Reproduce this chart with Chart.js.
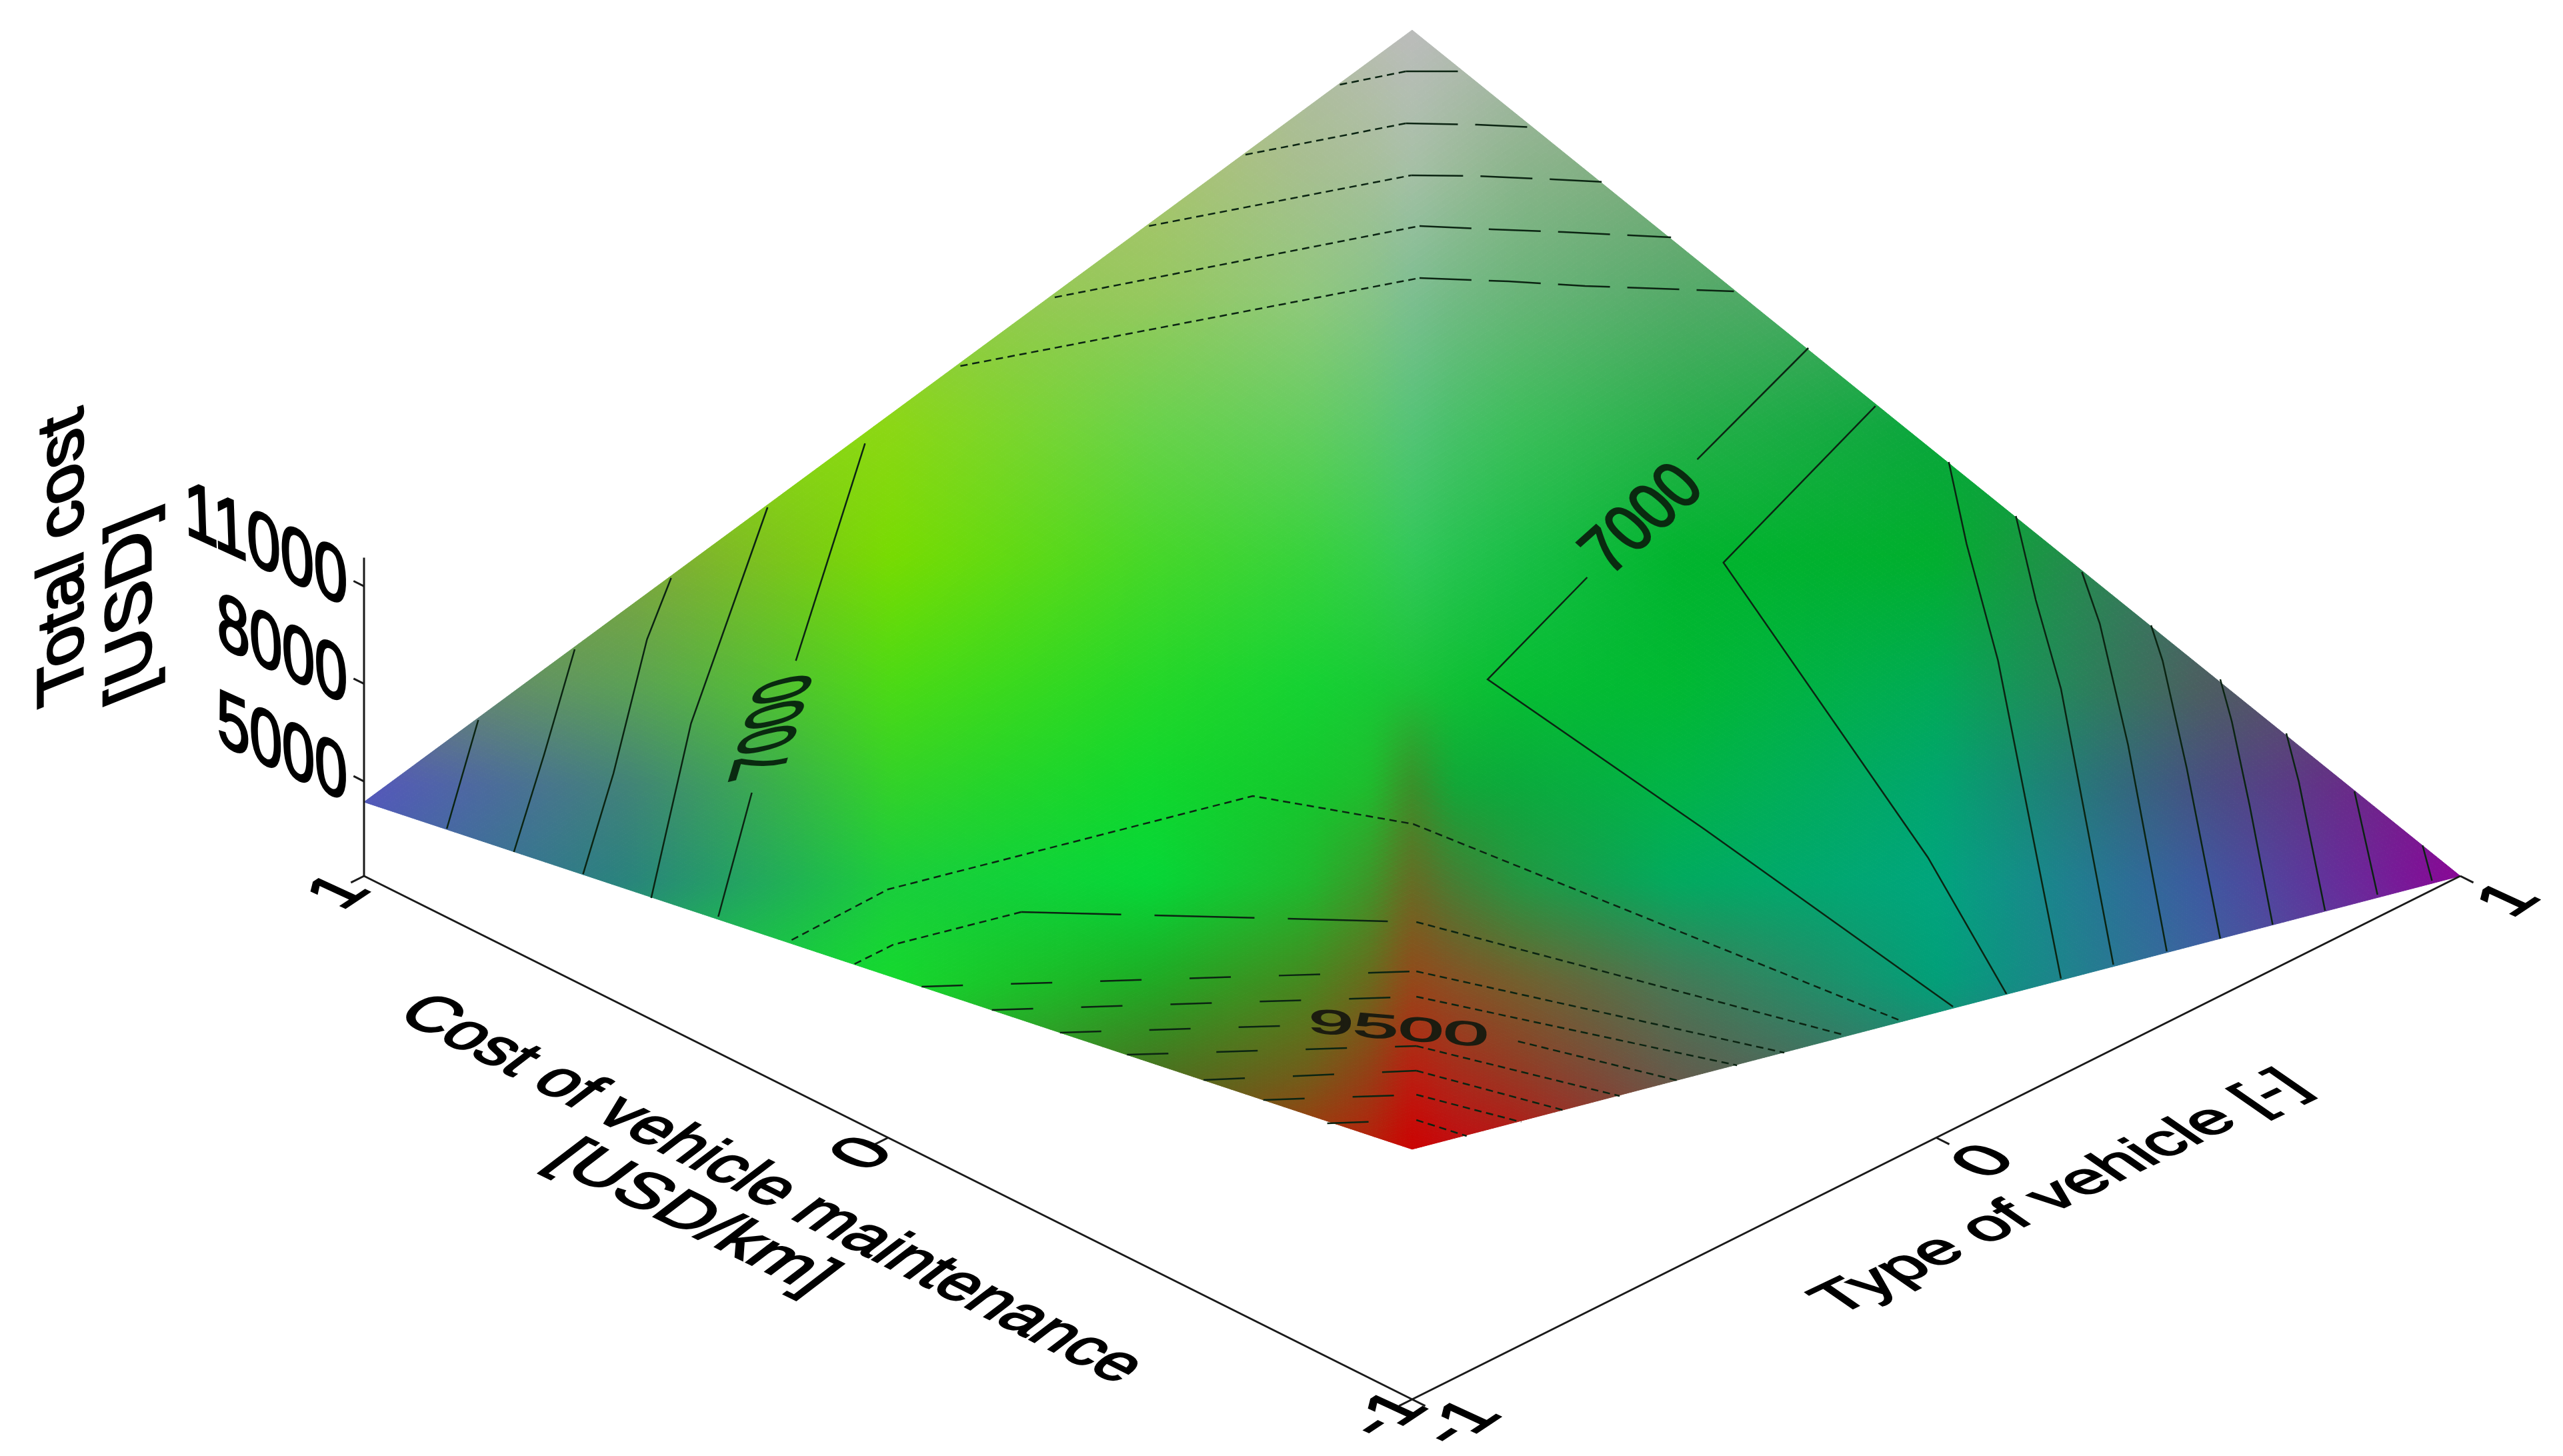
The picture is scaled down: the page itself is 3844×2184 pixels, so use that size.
<!DOCTYPE html>
<html>
<head>
<meta charset="utf-8">
<title>Total cost surface</title>
<style>
html, body {margin: 0; padding: 0; background: #fff}
canvas {display: block}
</style>
<script src="https://cdn.jsdelivr.net/npm/chart.js@4"></script>
</head>
<body>
<canvas id="chart" width="3844" height="2184"></canvas>
<script>
const typeTicks        = [-1, 0, 1];
const maintenanceTicks = [-1, 0, 1];
const costTicks        = [5000, 8000, 11000];
const costAxisRange    = [2090, 11880];

// total cost at the corners: [type, maintenance, cost]
const surfaceCorners = [[-1, -1, 9780], [1, -1, 2090], [-1, 1, 4365], [1, 1, 12010]];

const colourColumns = [-1, -0.748, -0.497, -0.248, -0.1, -0.04, 0, 0.04, 0.103, 0.251, 0.5, 0.75, 1];
const colourHeights = [28120, 24000, 19980, 15960, 11940, 7920, 4900, 1890, -1130, -4150, -6310];
const colourRows    = [
    [[170,195,110], [170,195,110], [170,195,110], [170,195,110], [178,188,165], [185,188,178], [188,188,188], [182,186,180], [172,182,170], [150,178,150], [150,178,150], [150,178,150], [150,178,150]],
    [[170,195,110], [170,195,110], [170,195,110], [170,195,110], [168,190,145], [168,191,155], [168,192,168], [156,187,155], [140,180,140], [125,170,125], [125,170,125], [125,170,125], [125,170,125]],
    [[150,200, 70], [150,200, 70], [150,200, 70], [150,200, 95], [145,200,125], [135,195,135], [125,190,145], [115,185,132], [105,180,120], [ 85,170,105], [ 65,165, 95], [ 65,165, 95], [ 65,165, 95]],
    [[140,215, 20], [140,215, 20], [140,215, 20], [105,210, 75], [100,205, 95], [ 92,200,108], [ 85,195,120], [ 72,192,105], [ 60,190, 90], [ 40,175, 75], [ 10,165, 60], [ 10,160, 60], [ 10,160, 60]],
    [[130,165, 60], [130,165, 60], [120,220,  0], [ 70,215, 40], [ 55,210, 60], [ 52,205, 75], [ 50,200, 90], [ 38,195, 80], [ 25,190, 70], [  0,180, 45], [  0,175, 45], [ 70,105,105], [ 90, 80,110]],
    [[110,120,125], [ 90,160, 85], [ 75,218, 20], [ 35,215, 40], [ 20,210, 50], [ 22,202, 52], [ 25,195, 55], [ 15,192, 52], [  5,190, 50], [  0,185, 50], [  0,170, 85], [ 75, 95, 95], [110, 50,120]],
    [[ 85, 85,190], [ 65,130,120], [ 50,210, 40], [ 15,215, 45], [ 20,200, 45], [ 28,190, 45], [ 60,140, 40], [ 15,168, 55], [ 10,170, 60], [  0,180, 70], [  0,165,110], [ 70, 80,130], [130, 15,140]],
    [[ 70,100,170], [ 40,130,125], [ 25,205, 60], [  5,215, 55], [ 30,185, 45], [ 60,150, 40], [105,105, 35], [ 70,125, 50], [ 35,150, 65], [  0,170, 95], [  0,165,125], [ 60, 90,160], [138,  5,150]],
    [[ 40,150,110], [ 25,190, 80], [ 20,218, 45], [ 30,170, 35], [ 70,135, 30], [105,105, 28], [150, 70, 25], [135, 80, 35], [115, 95, 45], [ 70,120, 85], [  0,160,120], [ 60,100,160], [120, 30,150]],
    [[ 40,170, 50], [ 40,170, 50], [ 40,170, 50], [ 75,110, 30], [115, 90, 25], [150, 60, 20], [190, 25, 15], [170, 40, 25], [150, 55, 35], [100, 90, 75], [ 50,120,110], [ 60,100,160], [ 60,100,160]],
    [[ 60,130, 40], [ 60,130, 40], [ 60,130, 40], [ 95,100, 25], [170, 50, 10], [185, 30, 10], [205,  0,  0], [195, 10, 15], [185, 20, 20], [125, 70, 60], [ 60,110,120], [ 60,100,160], [ 60,100,160]]
];

// contour lines as seen in the oblique view: [across, height]
const leftFan1 = [[-0.891, 6887], [-0.921, 3545]];
const leftFan2 = [[-0.799, 9060], [-0.828, 5841], [-0.857, 2828]];
const leftFan3 = [[-0.707, 11253], [-0.730, 9367], [-0.762, 5247], [-0.791, 2151]];
const leftFan4 = [[-0.615, 13426], [-0.635, 11602], [-0.688, 6784], [-0.726, 1414]];
const left7000a = [[-0.522, 15394], [-0.588, 8711]];
const left7000b = [[-0.630, 4652], [-0.662, 840]];

const right7000a = [[0.378, 18326], [0.272, 14902]];
const right7000b = [[0.167, 11274], [0.072, 8137], [0.279, 3525], [0.516, -1928]];
const rightFan1  = [[0.442, 16542], [0.297, 11725], [0.492, 2664], [0.567, -1538]];
const rightFan2  = [[0.512, 14820], [0.529, 12299], [0.559, 8711], [0.619, -1067]];
const rightFan3  = [[0.576, 13160], [0.595, 10577], [0.619, 7850], [0.669, -636]];
const rightFan4  = [[0.639, 11438], [0.656, 9859], [0.683, 6128], [0.720, -226]];
const rightFan5  = [[0.705, 9798], [0.716, 8711], [0.739, 5411], [0.771, 163]];
const rightFan6  = [[0.771, 8137], [0.782, 6846], [0.799, 4263], [0.821, 594]];
const rightFan7  = [[0.834, 6477], [0.846, 4980], [0.871, 1024]];
const rightFan8  = [[0.899, 4693], [0.921, 1516]];
const rightFan9  = [[0.964, 3033], [0.973, 1947]];

const lowRidge1  = [[-0.592, 122], [-0.500, 1680], [-0.152, 4550], [0.001, 3689], [0.466, -2358]];
const lowRidge2  = [[-0.532, -616], [-0.495, -21], [-0.373, 983], [0.004, 676], [0.411, -2789]];
const lowRidge3  = [[-0.468, -1313], [0.004, -841], [0.355, -3342]];
const lowRidge4  = [[-0.401, -2030], [0.004, -1620], [0.310, -3732]];
const low9500a   = [[-0.336, -2727], [-0.107, -2502]];
const low9500b   = [[0.101, -2994], [0.254, -4203]];
const lowRidge6  = [[-0.272, -3404], [0.004, -3137], [0.198, -4675]];
const lowRidge7  = [[-0.199, -4183], [0.004, -3896], [0.146, -5126]];
const lowRidge8  = [[-0.142, -4798], [0.004, -4634], [0.104, -5474]];
const lowRidge9  = [[-0.081, -5515], [0.004, -5413], [0.052, -5905]];

const topRidge1 = [[-0.069, 26424], [-0.006, 26834], [0.049, 26834]];
const topRidge2 = [[-0.159, 24271], [-0.006, 25235], [0.062, 25194], [0.118, 25112]];
const topRidge3 = [[-0.251, 22078], [-0.001, 23636], [0.062, 23615], [0.134, 23513], [0.184, 23431]];
const topRidge4 = [[-0.341, 19884], [0.007, 22078], [0.076, 21975], [0.144, 21893], [0.247, 21729]];
const topRidge5 = [[-0.431, 17773], [0.007, 20479], [0.092, 20376], [0.165, 20233], [0.307, 20069]];

const fanLines = [leftFan1, leftFan2, leftFan3, leftFan4, left7000a, left7000b, right7000a, right7000b,
    rightFan1, rightFan2, rightFan3, rightFan4, rightFan5, rightFan6, rightFan7, rightFan8, rightFan9];
const topLines = [topRidge1, topRidge2, topRidge3, topRidge4, topRidge5];
const lowLines = [lowRidge1, lowRidge3, lowRidge4, low9500a, low9500b, lowRidge6, lowRidge7, lowRidge8, lowRidge9];

const FONT = '"Liberation Sans", Arial, sans-serif';

// one unit of type + maintenance lifts a point by this much height on the picture
const PLANE_TILT = 8046;

const project  = (type, maintenance, cost) => ({x: (type - maintenance) / 2, y: cost + PLANE_TILT * (type + maintenance)});
const toPoints = line => line.map(p => ({x: p[0], y: p[1]}));

function cornerCost(type, maintenance) {
    const u = (type + 1) / 2;
    const v = (maintenance + 1) / 2;
    return surfaceCorners[0][2] * (1 - u) * (1 - v) + surfaceCorners[1][2] * u * (1 - v) +
           surfaceCorners[2][2] * (1 - u) * v + surfaceCorners[3][2] * u * v;
}

function bracket(levels, value) {
    const rising = levels[1] > levels[0];
    let i = 0;
    while (i < levels.length - 2 && (rising ? value > levels[i + 1] : value < levels[i + 1])) {i++}
    const f = (value - levels[i]) / (levels[i + 1] - levels[i]);
    return [i, Math.max(0, Math.min(1, f))];
}

function sampleColour(x, y) {
    const [c, fc] = bracket(colourColumns, x);
    const [r, fr] = bracket(colourHeights, y);
    return [0, 1, 2].map(k => {
        const a = colourRows[r][c][k] * (1 - fc) + colourRows[r][c + 1][k] * fc;
        const b = colourRows[r + 1][c][k] * (1 - fc) + colourRows[r + 1][c + 1][k] * fc;
        return a * (1 - fr) + b * fr;
    });
}

// a little averaging hides the creases of the colour table
function colourAt(x, y) {
    const near = [[0, 0], [-0.012, 0], [0.012, 0], [0, -500], [0, 500]].map(d => sampleColour(x + d[0], y + d[1]));
    const rgb  = [0, 1, 2].map(k => Math.round(near.reduce((sum, c) => sum + c[k], 0) / near.length));
    return `rgb(${rgb[0]},${rgb[1]},${rgb[2]})`;
}

function skewText(ctx, text, px, py, along, up, size, colour) {
    ctx.save();
    ctx.font = `${size}px ${FONT}`;
    const w   = ctx.measureText(text).width;
    const cap = size * 0.716;
    ctx.transform(along[0] / w, along[1] / w, -up[0] / cap, -up[1] / cap, px, py);
    ctx.textAlign    = 'center';
    ctx.textBaseline = 'alphabetic';
    ctx.fillStyle    = colour || '#000';
    ctx.strokeStyle  = colour || '#000';
    ctx.lineWidth    = 3;
    ctx.fillText(text, 0, cap / 2);
    ctx.strokeText(text, 0, cap / 2);
    ctx.restore();
}

const surfacePlugin = {
    id: 'surface',
    beforeDatasetsDraw(chart) {
        const {ctx, scales} = chart;
        const cells = 220;
        const spot  = (type, maintenance) => project(type, maintenance, cornerCost(type, maintenance));
        const pixel = p => [scales.x.getPixelForValue(p.x), scales.y.getPixelForValue(p.y)];
        ctx.save();
        ctx.lineWidth = 1;
        for (let i = 0; i < cells; i++) {
            for (let j = 0; j < cells; j++) {
                const t0 = -1 + 2 * i / cells;
                const t1 = -1 + 2 * (i + 1) / cells;
                const m0 = -1 + 2 * j / cells;
                const m1 = -1 + 2 * (j + 1) / cells;
                const mid    = spot((t0 + t1) / 2, (m0 + m1) / 2);
                const colour = colourAt(mid.x, mid.y);
                const a = pixel(spot(t0, m0)), b = pixel(spot(t1, m0)), c = pixel(spot(t1, m1)), d = pixel(spot(t0, m1));
                ctx.fillStyle   = colour;
                ctx.strokeStyle = colour;
                ctx.beginPath();
                ctx.moveTo(a[0], a[1]);
                ctx.lineTo(b[0], b[1]);
                ctx.lineTo(c[0], c[1]);
                ctx.lineTo(d[0], d[1]);
                ctx.closePath();
                ctx.fill();
                ctx.stroke();
            }
        }
        ctx.restore();
    }
};

const labelsPlugin = {
    id: 'labels',
    afterDatasetsDraw(chart) {
        const {ctx, scales} = chart;
        const at  = (x, y) => [scales.x.getPixelForValue(x), scales.y.getPixelForValue(y)];
        const put = (text, x, y, along, up, size, colour) => {
            const p = at(x, y);
            skewText(ctx, text, p[0], p[1], along, up, size, colour);
        };

        // contour labels
        put('7000', -0.613, 6662, [45, -150], [-85, 20], 100, '#0a2a10');
        put('7000', 0.217, 13140, [145, -130], [-55, -50], 100, '#0a2a10');
        put('9500', -0.013, -2563, [270, 22], [3, -36], 100, '#1c1c10');

        // axis titles
        put('Total cost', -1.291, 11869, [0, -430], [-70, 28], 100);
        put('[USD]', -1.226, 10331, [0, -280], [-70, 28], 100);
        put('Cost of vehicle maintenance', -0.608, -7466, [1085, 552], [55, -42], 100);
        put('[USD/km]', -0.683, -8324, [400, 197], [55, -42], 100);
        put('Type of vehicle [-]', 0.615, -7586, [710, -340], [-52, -36], 100);

        // cost ticks sit left of the vertical axis
        costTicks.forEach(cost => {
            const text = String(cost);
            const p    = project(-1, 1, cost);
            const q    = at(p.x, p.y);
            const n    = text.length * 0.556;
            skewText(ctx, text, q[0] - 44 * n - 25, q[1] - 56 - (20 * n - 44.5), [88 * n, 40 * n], [-3, -85], 100);
        });

        const mark  = n => [84 * n, -56 * n];
        const width = text => text === '-1' ? 0.889 : 0.556;
        typeTicks.forEach(type => {
            const p = project(type, -1.085, costAxisRange[0]);
            put(String(type), p.x, p.y, mark(width(String(type))), [-65, -30], 100);
        });
        maintenanceTicks.forEach(maintenance => {
            const p = project(-1.055, maintenance, costAxisRange[0]);
            put(String(maintenance), p.x, p.y, mark(width(String(maintenance))), [-65, -30], 100);
        });
    }
};

// the reference breaks shallow lines up more the flatter they run
function dashBySlope(flatDash) {
    return ctx => {
        const slope = Math.abs((ctx.p1.y - ctx.p0.y) / (ctx.p1.x - ctx.p0.x));
        if (slope < 0.1) {return flatDash}
        return slope < 0.6 ? [11, 7] : [];
    };
}

const contourSet = (lines, flatDash) => lines.map(line => ({
    data       : toPoints(line),
    showLine   : true,
    pointRadius: 0,
    borderColor: '#0b2412',
    borderWidth: 2.5,
    tension    : 0,
    segment    : {borderDash: dashBySlope(flatDash)}
}));

const axisSet = points => ({
    data       : points,
    showLine   : true,
    pointRadius: 0,
    borderColor: '#1a1a1a',
    borderWidth: 3,
    tension    : 0
});

const floor     = costAxisRange[0];
const axisLines = [
    axisSet([project(-1, 1, floor), project(-1, -1, floor)]),
    axisSet([project(-1, -1, floor), project(1, -1, floor)]),
    axisSet([project(-1, 1, costAxisRange[0]), project(-1, 1, costAxisRange[1])])
];
const tickLines = [
    ...typeTicks.map(t => axisSet([project(t, -1, floor), project(t, -1.025, floor)])),
    ...maintenanceTicks.map(m => axisSet([project(-1, m, floor), project(-1.025, m, floor)])),
    ...costTicks.map(c => axisSet([project(-1, 1, c), project(-1, 1.02, c)]))
];

new Chart(document.getElementById('chart'), {
    type: 'scatter',
    data: {
        datasets: [
            ...contourSet(fanLines, []),
            ...contourSet(topLines, [78, 26]),
            ...contourSet(lowLines, [62, 72]),
            ...contourSet([lowRidge2], [150, 50]),
            ...axisLines,
            ...tickLines
        ]
    },
    options: {
        responsive: false,
        animation : false,
        devicePixelRatio: 1,
        layout : {padding: 0},
        plugins: {legend: {display: false}, tooltip: {enabled: false}},
        scales : {
            x: {type: 'linear', display: false, min: -1.3473, max: 1.098},
            y: {type: 'linear', display: false, min: -15745, max: 29027}
        }
    },
    plugins: [surfacePlugin, labelsPlugin]
});
</script>
</body>
</html>
